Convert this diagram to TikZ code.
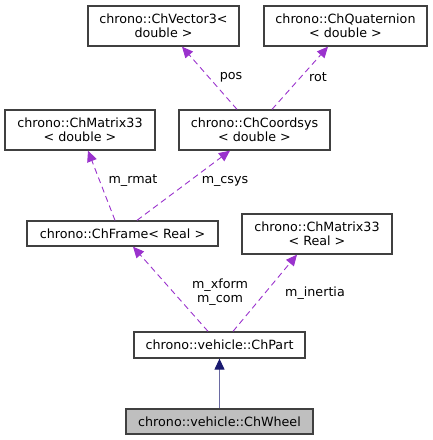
\documentclass[tikz,border=0pt]{standalone}
\usepackage{fontspec}
\setmainfont{DejaVu Sans}
\usetikzlibrary{arrows.meta}
\definecolor{edgepurple}{HTML}{9A32CD}
\definecolor{edgenavy}{HTML}{191970}
\definecolor{boxline}{HTML}{404040}
\tikzset{
    cls/.style={draw=boxline, line width=1.3pt, fill=white, align=center, inner sep=0pt},
    member/.style={edgepurple, line width=0.9pt, dash pattern=on 6pt off 4pt, -{Triangle[length=11pt, width=10pt]}},
    inherit/.style={edgenavy!65, line width=1.2pt, -{Triangle[length=11pt, width=10pt, fill=edgenavy, color=edgenavy]}},
    lbl/.style={align=center, inner sep=0pt}
}
\begin{document}
\begin{tikzpicture}[x=1pt, y=-1pt, font=\fontsize{12.7}{14.3}\selectfont]
        \useasboundingbox (0, 0) rectangle (432, 440);
        \node[cls, minimum width=151pt, minimum height=40pt] (vecd)  at (163.5,  26) {chrono::ChVector3<\\double >};
        \node[cls, minimum width=163pt, minimum height=40pt] (quatd) at (345.5,  26) {chrono::ChQuaternion\\< double >};
        \node[cls, minimum width=150pt, minimum height=40pt] (matd)  at ( 80  , 130) {chrono::ChMatrix33\\< double >};
        \node[cls, minimum width=151pt, minimum height=40pt] (csysd) at (254.5, 130) {chrono::ChCoordsys\\< double >};
        \node[cls, minimum width=191pt, minimum height=25pt] (frame) at (122.5, 233.5) {chrono::ChFrame< Real >};
        \node[cls, minimum width=150pt, minimum height=40pt] (matr)  at (317  , 234) {chrono::ChMatrix33\\< Real >};
        \node[cls, minimum width=171pt, minimum height=26pt] (part)  at (219.5, 345) {chrono::vehicle::ChPart};
        \node[cls, minimum width=187pt, minimum height=25pt, fill=black!25] (wheel) at (219.5, 421.5) {chrono::vehicle::ChWheel};
        \draw[member] ([xshift=-17.5pt]csysd.north) -- ([xshift=18.5pt]vecd.south);
        \draw[member] ([xshift= 17.5pt]csysd.north) -- ([xshift=-17.5pt]quatd.south);
        \draw[member] ([xshift=-7.5pt]frame.north)  -- ([xshift=8pt]matd.south);
        \draw[member] ([xshift=14.5pt]frame.north)  -- ([xshift=-24.5pt]csysd.south);
        \draw[member] ([xshift=-11.5pt]part.north)  -- ([xshift=10.5pt]frame.south);
        \draw[member] ([xshift=13.5pt]part.north)   -- ([xshift=-20pt]matr.south);
        \draw[inherit] (wheel.north) -- (part.south);
        \node[lbl] (lpos)  at (231, 77)  {pos};
        \node[lbl] (lrot)  at (318, 77)  {rot};
        \node[lbl] (lrmat) at (133, 181) {m\_rmat};
        \node[lbl] (lcsys) at (225, 181) {m\_csys};
        \node[lbl] (lxform) at (220, 292) {m\_xform\\m\_com};
        \node[lbl] (linert) at (315, 293) {m\_inertia};
    \end{tikzpicture}
\end{document}
